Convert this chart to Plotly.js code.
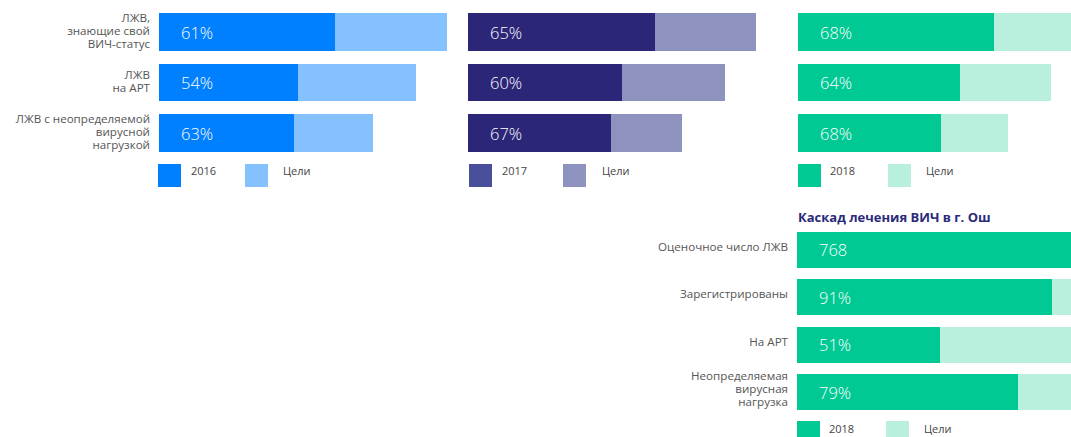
<!DOCTYPE html>
<html>
<head>
<meta charset="utf-8">
<script src="https://cdn.plot.ly/plotly-3.0.1.min.js"></script>
<style>html,body{margin:0;padding:0;background:#fff;}#chart{width:1071px;height:437px;}</style>
</head>
<body>
<div id="chart"></div>
<script>
// ---------- DATA ----------
var topCategories = ["ЛЖВ,<br>знающие свой<br>ВИЧ-статус", "ЛЖВ<br>на АРТ", "ЛЖВ с неопределяемой<br>вирусной<br>нагрузкой"];
var years = ["2016", "2017", "2018"];
var targetName = "Цели";
var pct2016 = [61, 54, 63];
var pct2017 = [65, 60, 67];
var pct2018 = [68, 64, 68];
// relative length of the target bar (first bar = 100)
var target2016 = [100, 89.2, 74.3];
var target2017 = [100, 89.2, 74.3];
var target2018 = [100, 87.8, 72.9];

var cascadeTitle = "Каскад лечения ВИЧ в г. Ош";
var cascadeCategories = ["Оценочное число ЛЖВ", "Зарегистрированы", "На АРТ", "Неопределяемая<br>вирусная<br>нагрузка"];
var cascadePct = [100, 91, 51, 79];
var cascadeLabels = ["768", "91%", "51%", "79%"];
var cascadeYear = "2018";

// ---------- STYLE ----------
var W = 1071, H = 437;
function px(x) { return x / W; }
function py(y) { return 1 - y / H; }
var FONT = "Open Sans, Lato, sans-serif";
var colors = {
  "2016": {dark: "#0080FF", light: "#85C0FF", legend: "#0080FF"},
  "2017": {dark: "#2B2677", light: "#8E92BF", legend: "#4A4F9C"},
  "2018": {dark: "#00C994", light: "#B9F0DD", legend: "#00C994"}
};

var traces = [];
var annotations = [];
var shapes = [];

var panels = [
  {year: "2016", pct: pct2016, target: target2016, xa: "x", ya: "y"},
  {year: "2017", pct: pct2017, target: target2017, xa: "x2", ya: "y2"},
  {year: "2018", pct: pct2018, target: target2018, xa: "x3", ya: "y3"}
];

panels.forEach(function (p) {
  var achieved = p.pct.map(function (v, i) { return v / 100 * p.target[i]; });
  var rest = achieved.map(function (v, i) { return p.target[i] - v; });
  traces.push({type: "bar", orientation: "h", y: topCategories, x: achieved, xaxis: p.xa, yaxis: p.ya,
    marker: {color: colors[p.year].dark}, width: 0.752, hoverinfo: "skip", showlegend: false, name: p.year});
  traces.push({type: "bar", orientation: "h", y: topCategories, x: rest, xaxis: p.xa, yaxis: p.ya,
    marker: {color: colors[p.year].light}, width: 0.752, hoverinfo: "skip", showlegend: false, name: targetName});
  p.pct.forEach(function (v, i) {
    annotations.push({xref: p.xa, yref: p.ya, x: 0, y: topCategories[i], xanchor: "left", yanchor: "middle",
      xshift: 20, text: v + "%", showarrow: false, font: {family: FONT, size: 16.5, color: "#ffffff", weight: 300}});
  });
});

// cascade
var cascRest = cascadePct.map(function (v) { return 100 - v; });
traces.push({type: "bar", orientation: "h", y: cascadeCategories, x: cascadePct, xaxis: "x4", yaxis: "y4",
  marker: {color: colors["2018"].dark}, width: 0.76, hoverinfo: "skip", showlegend: false, name: cascadeYear});
traces.push({type: "bar", orientation: "h", y: cascadeCategories, x: cascRest, xaxis: "x4", yaxis: "y4",
  marker: {color: colors["2018"].light}, width: 0.76, hoverinfo: "skip", showlegend: false, name: targetName});
cascadeLabels.forEach(function (t, i) {
  annotations.push({xref: "x4", yref: "y4", x: 0, y: cascadeCategories[i], xanchor: "left", yanchor: "middle",
    xshift: 20, text: t, showarrow: false, font: {family: FONT, size: 16.5, color: "#ffffff", weight: 300}});
});

annotations.push({xref: "paper", yref: "paper", x: px(796), y: py(217), xanchor: "left", yanchor: "middle",
  text: "<b>" + cascadeTitle + "</b>", showarrow: false, font: {family: FONT, size: 13, color: "#2B2A7A"}});

// legends (swatches + text)
var legendDefs = [
  {year: "2016", s1: 158, t1: 189, s2: 245, t2: 281, top: 164, bottom: 187, ty: 171},
  {year: "2017", s1: 469, t1: 500, s2: 563, t2: 600, top: 164, bottom: 187, ty: 171},
  {year: "2018", s1: 798, t1: 828, s2: 888, t2: 924, top: 164, bottom: 187, ty: 171},
  {year: cascadeYear, s1: 797, t1: 827, s2: 886, t2: 922, top: 421, bottom: 444, ty: 428}
];
legendDefs.forEach(function (l) {
  shapes.push({type: "rect", xref: "paper", yref: "paper", x0: px(l.s1), x1: px(l.s1 + 23), y0: py(l.bottom), y1: py(l.top),
    fillcolor: colors[l.year].legend, line: {width: 0}});
  shapes.push({type: "rect", xref: "paper", yref: "paper", x0: px(l.s2), x1: px(l.s2 + 23), y0: py(l.bottom), y1: py(l.top),
    fillcolor: colors[l.year].light, line: {width: 0}});
  annotations.push({xref: "paper", yref: "paper", x: px(l.t1), y: py(l.ty), xanchor: "left", yanchor: "middle",
    text: l.year, showarrow: false, font: {family: FONT, size: 11, color: "#444444"}});
  annotations.push({xref: "paper", yref: "paper", x: px(l.t2), y: py(l.ty), xanchor: "left", yanchor: "middle",
    text: targetName, showarrow: false, font: {family: FONT, size: 11, color: "#444444"}});
});

function xax(d0, d1, r1) {
  return {domain: [px(d0), d1], range: [0, r1], showgrid: false, zeroline: false, showline: false,
    showticklabels: false, ticks: "", fixedrange: true};
}
function yax(dom, showLabels, anchor, shift) {
  return {domain: dom, type: "category", autorange: "reversed", showgrid: false, zeroline: false, showline: false,
    ticks: "", showticklabels: showLabels, anchor: anchor, ticklabelstandoff: 8, ticklabelshift: shift,
    tickfont: {family: FONT, size: 11.6, color: "#555555"}, fixedrange: true};
}
var topDom = [py(158.25), py(6.75)];
var botDom = [py(415.7), py(226.3)];

var layout = {
  width: W, height: H, margin: {l: 0, r: 0, t: 0, b: 0}, paper_bgcolor: "#ffffff", plot_bgcolor: "rgba(0,0,0,0)",
  barmode: "stack", showlegend: false,
  xaxis: xax(159, px(447), 100),
  xaxis2: xax(468, px(756), 100),
  xaxis3: xax(798, 1, 273 / 288 * 100),
  xaxis4: xax(797, 1, 274 / 280 * 100),
  yaxis: yax(topDom, true, "x", 1),
  yaxis2: yax(topDom, false, "x2", 0),
  yaxis3: yax(topDom, false, "x3", 0),
  yaxis4: yax(botDom, true, "x4", 3),
  annotations: annotations,
  shapes: shapes
};

// slightly tighter line spacing for multi-line category labels (as in the reference)
function tightenLabels(gd) {
  var texts = gd.querySelectorAll("g.ytick text, g.y4tick text");
  texts.forEach(function (t) {
    var lines = t.querySelectorAll("tspan.line");
    if (lines.length < 2) return;
    var b0 = t.getBBox();
    var c0 = b0.y + b0.height / 2;
    for (var i = 0; i < lines.length; i++) lines[i].setAttribute("dy", (i * 1.15) + "em");
    var b1 = t.getBBox();
    var c1 = b1.y + b1.height / 2;
    var tr = t.getAttribute("transform") || "";
    t.setAttribute("transform", tr + " translate(0," + (c0 - c1) + ")");
  });
}

Plotly.newPlot("chart", traces, layout, {displayModeBar: false, staticPlot: true}).then(function (gd) {
  tightenLabels(gd);
});
</script>
</body>
</html>
